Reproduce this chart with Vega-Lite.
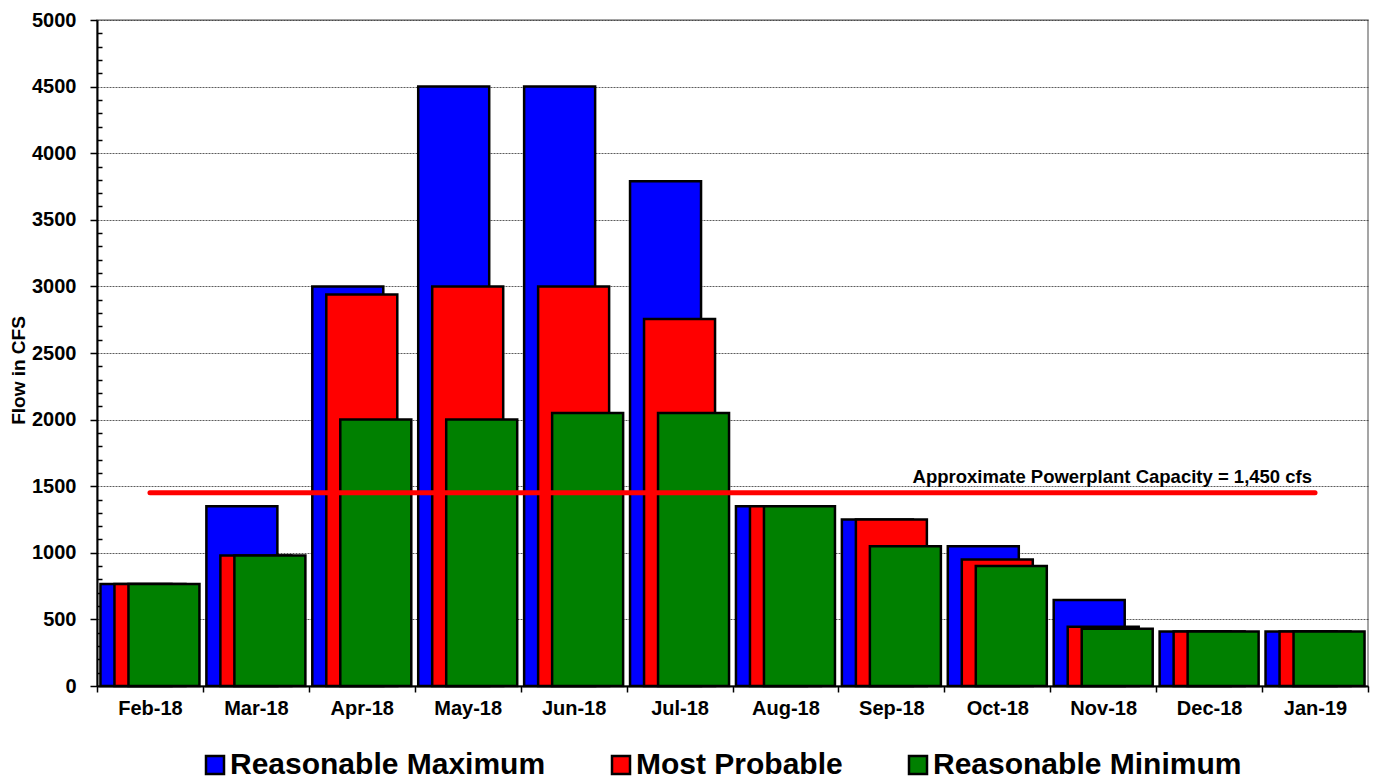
{
  "$schema": "https://vega.github.io/schema/vega-lite/v6.json",
  "width": 1271,
  "height": 666,
  "autosize": {"type": "none"},
  "padding": {"left": 97, "top": 20, "right": 7, "bottom": 96},
  "background": "white",
  "config": {
    "font": "Liberation Sans",
    "view": {"stroke": "#888888", "strokeWidth": 1.5},
    "axis": {"labelFont": "Liberation Sans", "titleFont": "Liberation Sans"}
  },
  "datasets": {
    "flows": [
      {"month": "Feb-18", "series": "Reasonable Maximum", "flow": 765},
      {"month": "Feb-18", "series": "Most Probable", "flow": 765},
      {"month": "Feb-18", "series": "Reasonable Minimum", "flow": 765},
      {"month": "Mar-18", "series": "Reasonable Maximum", "flow": 1350},
      {"month": "Mar-18", "series": "Most Probable", "flow": 980},
      {"month": "Mar-18", "series": "Reasonable Minimum", "flow": 980},
      {"month": "Apr-18", "series": "Reasonable Maximum", "flow": 3000},
      {"month": "Apr-18", "series": "Most Probable", "flow": 2940},
      {"month": "Apr-18", "series": "Reasonable Minimum", "flow": 2000},
      {"month": "May-18", "series": "Reasonable Maximum", "flow": 4500},
      {"month": "May-18", "series": "Most Probable", "flow": 3000},
      {"month": "May-18", "series": "Reasonable Minimum", "flow": 2000},
      {"month": "Jun-18", "series": "Reasonable Maximum", "flow": 4500},
      {"month": "Jun-18", "series": "Most Probable", "flow": 3000},
      {"month": "Jun-18", "series": "Reasonable Minimum", "flow": 2050},
      {"month": "Jul-18", "series": "Reasonable Maximum", "flow": 3790},
      {"month": "Jul-18", "series": "Most Probable", "flow": 2755},
      {"month": "Jul-18", "series": "Reasonable Minimum", "flow": 2050},
      {"month": "Aug-18", "series": "Reasonable Maximum", "flow": 1350},
      {"month": "Aug-18", "series": "Most Probable", "flow": 1350},
      {"month": "Aug-18", "series": "Reasonable Minimum", "flow": 1350},
      {"month": "Sep-18", "series": "Reasonable Maximum", "flow": 1250},
      {"month": "Sep-18", "series": "Most Probable", "flow": 1250},
      {"month": "Sep-18", "series": "Reasonable Minimum", "flow": 1050},
      {"month": "Oct-18", "series": "Reasonable Maximum", "flow": 1050},
      {"month": "Oct-18", "series": "Most Probable", "flow": 950},
      {"month": "Oct-18", "series": "Reasonable Minimum", "flow": 900},
      {"month": "Nov-18", "series": "Reasonable Maximum", "flow": 645},
      {"month": "Nov-18", "series": "Most Probable", "flow": 445},
      {"month": "Nov-18", "series": "Reasonable Minimum", "flow": 430},
      {"month": "Dec-18", "series": "Reasonable Maximum", "flow": 410},
      {"month": "Dec-18", "series": "Most Probable", "flow": 410},
      {"month": "Dec-18", "series": "Reasonable Minimum", "flow": 410},
      {"month": "Jan-19", "series": "Reasonable Maximum", "flow": 410},
      {"month": "Jan-19", "series": "Most Probable", "flow": 410},
      {"month": "Jan-19", "series": "Reasonable Minimum", "flow": 410}
    ],
    "capacity": [
      {"start": "Feb-18", "end": "Jan-19", "flow": 1450, "label": "Approximate Powerplant Capacity = 1,450 cfs"}
    ]
  },
  "layer": [
    {
      "data": {"name": "flows"},
      "transform": [{"filter": "datum.series == 'Reasonable Maximum'"}],
      "mark": {"type": "bar", "width": 71, "xOffset": -14, "stroke": "black", "strokeWidth": 2.5},
      "encoding": {
        "x": {
          "field": "month", "type": "nominal",
          "scale": {"domain": ["Feb-18","Mar-18","Apr-18","May-18","Jun-18","Jul-18","Aug-18","Sep-18","Oct-18","Nov-18","Dec-18","Jan-19"], "paddingInner": 0, "paddingOuter": 0},
          "axis": {"title": null, "labelAngle": 0, "labelFontSize": 20, "labelFontWeight": "bold", "labelColor": "black", "tickBand": "extent", "tickSize": 6, "tickColor": "black", "tickWidth": 1.5, "domainColor": "black", "domainWidth": 2, "labelPadding": 6}
        },
        "y": {
          "field": "flow", "type": "quantitative",
          "scale": {"domain": [0, 5000], "nice": false, "zero": true},
          "axis": {"title": "Flow in CFS", "format": "d", "values": [0,500,1000,1500,2000,2500,3000,3500,4000,4500,5000], "labelFontSize": 20, "labelFontWeight": "bold", "labelColor": "black", "titleFontSize": 19, "titleFontWeight": "bold", "titleColor": "black", "titleX": -79, "titleY": 350, "titleAngle": -90, "titleAlign": "center", "titleBaseline": "middle", "tickSize": 7, "tickColor": "black", "tickWidth": 1.5, "domainColor": "black", "domainWidth": 2, "labelPadding": 14, "grid": true, "gridColor": "#333333", "gridDash": [2, 1], "gridWidth": 0.8}
        },
        "color": {
          "field": "series", "type": "nominal",
          "scale": {"domain": ["Reasonable Maximum", "Most Probable", "Reasonable Minimum"], "range": ["#0000FF", "#FF0000", "#008000"]},
          "legend": {"title": null, "orient": "none", "direction": "horizontal", "legendX": 103, "legendY": 730, "padding": 0, "symbolType": "square", "symbolSize": 324, "symbolStrokeColor": "black", "symbolStrokeWidth": 2.5, "symbolOpacity": 1, "labelFontSize": 30, "labelFontWeight": "bold", "labelColor": "black", "labelFont": "Liberation Sans", "labelOffset": 0, "columnPadding": 60, "labelLimit": 500}
        }
      }
    },
    {
      "data": {"name": "flows"},
      "transform": [{"filter": "datum.series == 'Most Probable'"}],
      "mark": {"type": "bar", "width": 71, "xOffset": 0, "stroke": "black", "strokeWidth": 2.5},
      "encoding": {
        "x": {"field": "month", "type": "nominal"},
        "y": {"field": "flow", "type": "quantitative", "axis": null},
        "color": {"field": "series", "type": "nominal"}
      }
    },
    {
      "data": {"name": "flows"},
      "transform": [{"filter": "datum.series == 'Reasonable Minimum'"}],
      "mark": {"type": "bar", "width": 71, "xOffset": 14, "stroke": "black", "strokeWidth": 2.5},
      "encoding": {
        "x": {"field": "month", "type": "nominal"},
        "y": {"field": "flow", "type": "quantitative", "axis": null},
        "color": {"field": "series", "type": "nominal"}
      }
    },
    {
      "data": {"name": "capacity"},
      "mark": {"type": "rule", "color": "#FF0000", "strokeWidth": 5, "strokeCap": "round"},
      "encoding": {
        "x": {"field": "start", "type": "nominal"},
        "x2": {"field": "end"},
        "y": {"field": "flow", "type": "quantitative",
          "axis": {"orient": "left", "title": null, "labels": false, "domain": false, "grid": false, "values": [100,200,300,400,600,700,800,900,1100,1200,1300,1400,1600,1700,1800,1900,2100,2200,2300,2400,2600,2700,2800,2900,3100,3200,3300,3400,3600,3700,3800,3900,4100,4200,4300,4400,4600,4700,4800,4900], "tickSize": -5, "tickColor": "black", "tickWidth": 1.5}
        }
      }
    },
    {
      "data": {"name": "capacity"},
      "mark": {"type": "text", "align": "right", "baseline": "alphabetic", "dx": -3, "dy": -10, "fontSize": 18.5, "fontWeight": "bold", "color": "black", "font": "Liberation Sans"},
      "encoding": {
        "x": {"field": "end", "type": "nominal"},
        "y": {"field": "flow", "type": "quantitative", "axis": null},
        "text": {"field": "label"}
      }
    }
  ],
  "resolve": {"axis": {"y": "independent"}}
}
